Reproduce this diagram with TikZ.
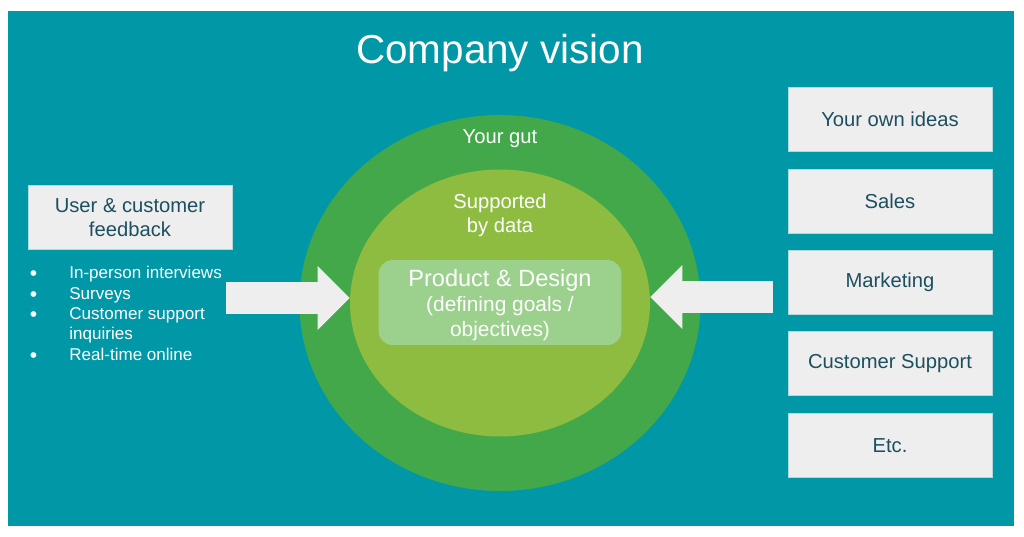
\documentclass[tikz,border=0pt]{standalone}
\usepackage{fontspec}
\setmainfont{Liberation Sans}
\usepackage{xcolor}
\usetikzlibrary{arrows.meta, positioning, shapes.geometric}

\definecolor{vision}{HTML}{0097A7}
\definecolor{gutgreen}{HTML}{43A84A}
\definecolor{datagreen}{HTML}{8DBC41}
\definecolor{teamgreen}{HTML}{9BD08D}
\definecolor{boxgray}{HTML}{EEEEEE}
\definecolor{boxtext}{HTML}{1C4F60}

\newcommand{\feedbackdot}{\raisebox{-1.2pt}{\fontsize{12}{11.6}\selectfont\textbullet}}

\begin{document}
\begin{tikzpicture}[
    x=0.02cm, y=-0.02cm,
    node distance=0.335cm,
    source/.style={rectangle, fill=boxgray, draw=boxgray!75!vision, line width=0.4pt,
      minimum width=4.08cm, minimum height=1.28cm, inner sep=0pt,
      text=boxtext, font=\fontsize{11.5}{13.6}\selectfont, align=center},
    ring/.style={ellipse, inner sep=0pt},
    ringtext/.style={text=white, font=\fontsize{11.5}{13.6}\selectfont, align=center},
    blockarrow/.style={draw=boxgray, line width=0.66cm,
      -{Triangle[width=1.28cm, length=0.64cm, line width=0pt, fill=boxgray]}}
  ]
  \useasboundingbox (0,0) rectangle (1024,537);
  \fill[vision] (8,11) rectangle (1014,526);

  \node[text=white, font=\fontsize{23}{27}\selectfont] (title) at (500,53) {Company vision};

  % circles
  \node[ring, fill=gutgreen, minimum width=8.02cm, minimum height=7.52cm] (gut) at (500,303) {};
  \node[ring, fill=datagreen, minimum width=6cm, minimum height=5.34cm] (data) at (gut.center) {};
  \node[ringtext] (gutlabel) at (500,139) {Your gut};
  \node[ringtext] (datalabel) at (500,215) {Supported\\by data};
  \node[fill=teamgreen, rounded corners=8pt, minimum width=4.86cm, minimum height=1.7cm] (product) at (500,302.5) {};
  \node[text=white, align=center, font=\fontsize{11.9}{14.4}\selectfont] (producttext) at (500,305)
    {{\fontsize{13.4}{14.4}\selectfont Product \& Design}\\(defining goals /\\objectives)};

  % left side
  \node[source] (feedback) at (130,217.5) {User \& customer\\feedback};
  \node[anchor=north west, inner sep=0pt, text=white, font=\fontsize{9.7}{11.6}\selectfont] (feedbacklist) at (28,264) {%
    \begin{tabular}{@{\hspace{0.03cm}}p{0.79cm}@{}l@{}}
      \feedbackdot & In-person interviews\\
      \feedbackdot & Surveys\\
      \feedbackdot & Customer support\\
                   & inquiries\\
      \feedbackdot & Real-time online
    \end{tabular}};

  % right side
  \node[source] (ideas) at (890,119.5) {Your own ideas};
  \node[source, below=of ideas] (sales) {Sales};
  \node[source, below=of sales] (marketing) {Marketing};
  \node[source, below=of marketing] (support) {Customer Support};
  \node[source, below=of support] (etc) {Etc.};

  % arrows into the product circle
  \coordinate (feedbacktail) at (226,298);
  \coordinate (sourcetail) at (773,297);
  \draw[blockarrow] (feedbacktail) -- (feedbacktail -| data.west);
  \draw[blockarrow] (sourcetail) -- (sourcetail -| data.east);
\end{tikzpicture}
\end{document}
